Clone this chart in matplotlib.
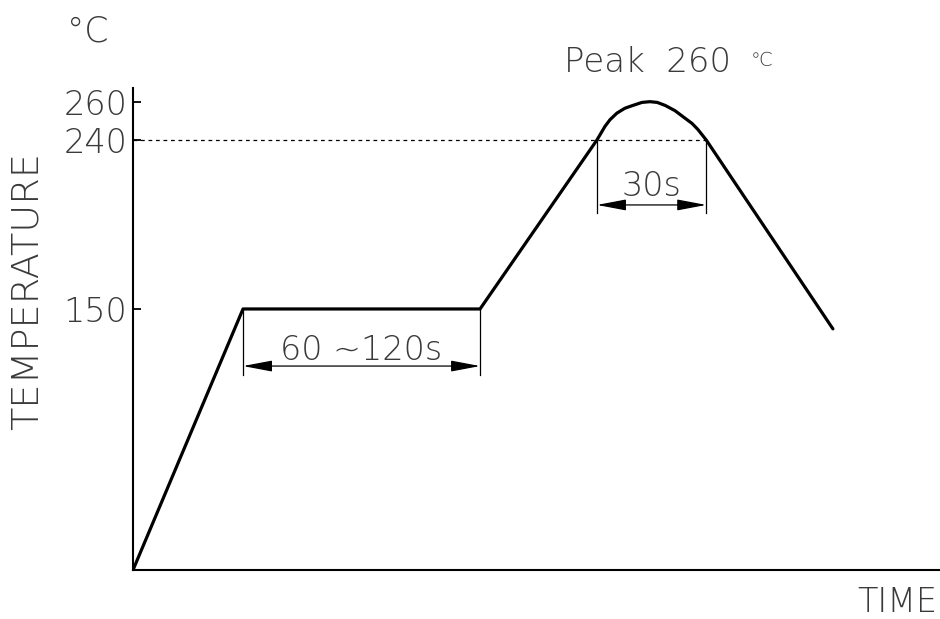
import numpy as np
import matplotlib
matplotlib.use("Agg")
import matplotlib.pyplot as plt

# reflow profile (time in s, temperature in degC)
time_s = [0, 30.3, 95.6, 127.8, 130.0, 131.4, 133.3, 135.5, 137.7,
          140.2, 142.4, 144.4, 146.6, 149.3, 151.5, 154.0, 155.6, 157.9, 192.8]
temp_c = [11, 150, 150, 240, 247.2, 250.8, 254.3, 256.9, 258.4,
          260.0, 260.4, 260.0, 258.4, 255.6, 252.4, 248.8, 245.6, 240, 139.4]

y_ticks = [150, 240, 260]
soak_span = [30.3, 95.6]
peak_span = [127.8, 157.9]
soak_label = "60 ~120s"
peak_label = "30s"

txt = dict(family="DejaVu Sans", weight="light", color="#3a3a3a")

fig = plt.figure(figsize=(9.4, 6.19), dpi=100)
ax = fig.add_axes([0.1415, 0.0792, 0.8585, 0.7787])
ax.set_xlim(0, 222.3)
ax.set_ylim(11, 267.7)

ax.plot(time_s, temp_c, color="black", lw=2.3, solid_capstyle="round",
        solid_joinstyle="round", zorder=3)

# 240 line
ax.plot([0, peak_span[1]], [240, 240], color="black", lw=0.9,
        linestyle=(0, (3, 3)))

for s in ["top", "right"]:
    ax.spines[s].set_visible(False)
for s in ["left", "bottom"]:
    ax.spines[s].set_linewidth(1.5)

ax.set_xticks([])
ax.set_yticks(y_ticks)
ax.set_yticklabels([str(v) for v in y_ticks], fontsize=24, **txt)
ax.tick_params(axis="y", direction="in", length=6, width=1.3, pad=4)


def dimension(x0, x1, y_top, y_ext, y_dim, label, y_txt):
    for x in (x0, x1):
        ax.plot([x, x], [y_top, y_ext], color="black", lw=0.9)
    ax.annotate("", xy=(x0, y_dim), xytext=(x1, y_dim),
                arrowprops=dict(arrowstyle="<|-|>,head_length=0.9,head_width=0.17",
                                color="black", lw=0.9, shrinkA=0, shrinkB=0,
                                mutation_scale=20))
    ax.text((x0 + x1) / 2, y_txt, label, ha="center", va="center",
            fontsize=24, **txt)


dimension(soak_span[0], soak_span[1], 150, 114.9, 119.6, soak_label, 128)
dimension(peak_span[0], peak_span[1], 240, 201, 205.4, peak_label, 215)

fig.text(88 / 940, 1 - 31 / 619, "°C", ha="center", va="center", fontsize=25, **txt)
fig.text(648 / 940, 1 - 63 / 619, "Peak  260", ha="center", va="center",
         fontsize=24.5, **txt)
fig.text(762 / 940, 1 - 61 / 619, "℃", ha="center", va="center", fontsize=14, **txt)
fig.text(27 / 940, 1 - 291 / 619, "TEMPERATURE", ha="center", va="center",
         rotation=90, fontsize=27.5, **txt)
fig.text(897 / 940, 1 - 603 / 619, "TIME", ha="center", va="center",
         fontsize=24, **txt)

fig.savefig("out.png", dpi=100)
